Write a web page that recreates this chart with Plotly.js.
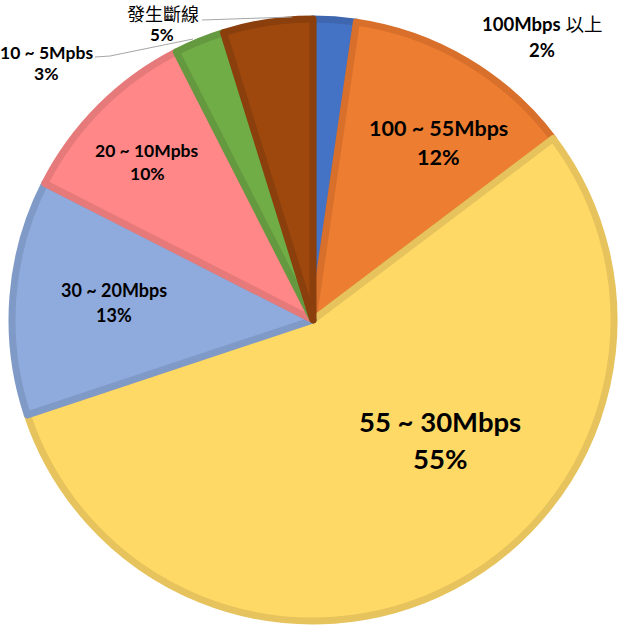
<!DOCTYPE html>
<html><head><meta charset="utf-8">
<script src="https://cdn.plot.ly/plotly-3.0.1.min.js"></script>
<style>html,body{margin:0;padding:0;background:#fff}</style>
</head><body><div id="chart" style="width:627px;height:633px"></div>
<script>
const categories = ['100Mbps 以上','100 ~ 55Mbps','55 ~ 30Mbps','30 ~ 20Mbps','20 ~ 10Mpbs','10 ~ 5Mpbs','發生斷線'];
const shares = [2.3, 12.4, 55.2, 12.6, 10.0, 2.7, 4.8];
const percentLabels = ['2%','12%','55%','13%','10%','3%','5%'];
const fillColors = ['#4472C4','#ED7D31','#FFD966','#8FAADC','#FF8787','#70AD47','#9E480E'];
const edgeColors = ['#3F67B0','#D8702C','#E6C35C','#7F9AC6','#E67A7A','#64993F','#8A3F0C'];

const W = 627, H = 633;
const px = (x) => x / W, py = (y) => 1 - y / H;

// label layout: [nameX, nameY, pctX, pctY, size, nameBold]
const labelLayout = [
  [542, 24, 542, 50, 18.5, true],
  [438, 128, 438, 157, 21.5, true],
  [440, 421, 440, 458, 27.5, true],
  [114, 290, 114, 315, 18, true],
  [147, 150, 147, 173, 17.5, true],
  [47, 52, 47, 74, 17.5, true],
  [163, 13, 162, 35, 18, false]
];
const FONT = 'Lato, "Noto Sans CJK TC", sans-serif';
const annotations = [];
categories.forEach((c, i) => {
  const L = labelLayout[i];
  let nameText = L[5] ? '<b>' + c + '</b>' : c;
  if (i === 0) nameText = '<b>100Mbps</b> 以上';
  annotations.push({xref:'paper', yref:'paper', x:px(L[0]), y:py(L[1]), xanchor:'center', yanchor:'middle',
    text:nameText, showarrow:false, font:{family: L[5] ? FONT : '"Noto Sans CJK TC", sans-serif', size:L[4], color:'#000'}});
  annotations.push({xref:'paper', yref:'paper', x:px(L[2]), y:py(L[3]), xanchor:'center', yanchor:'middle',
    text:'<b>' + percentLabels[i] + '</b>', showarrow:false, font:{family:FONT, size:(i===6?17:L[4]), color:'#000'}});
});

const shapes = [
  {type:'path', xref:'paper', yref:'paper', path:`M${px(202)},${py(20)} L${px(292)},${py(17)}`, line:{color:'#A6A6A6', width:1}},
  {type:'path', xref:'paper', yref:'paper', path:`M${px(95)},${py(57)} L${px(110)},${py(56)} L${px(193)},${py(39)}`, line:{color:'#A6A6A6', width:1}}
];

const trace = {
  type:'pie', labels:categories, values:shares, sort:false, direction:'clockwise', rotation:0,
  textinfo:'none', hoverinfo:'label+percent', showlegend:false,
  marker:{colors:fillColors, line:{color:edgeColors, width:7}},
  domain:{x:[px(12), px(614)], y:[py(621), py(19)]}
};

Plotly.newPlot('chart', [trace], {
  width:W, height:H, margin:{l:0,r:0,t:0,b:0},
  paper_bgcolor:'#fff', plot_bgcolor:'#fff',
  annotations, shapes
}, {displayModeBar:false, staticPlot:true});
</script></body></html>
